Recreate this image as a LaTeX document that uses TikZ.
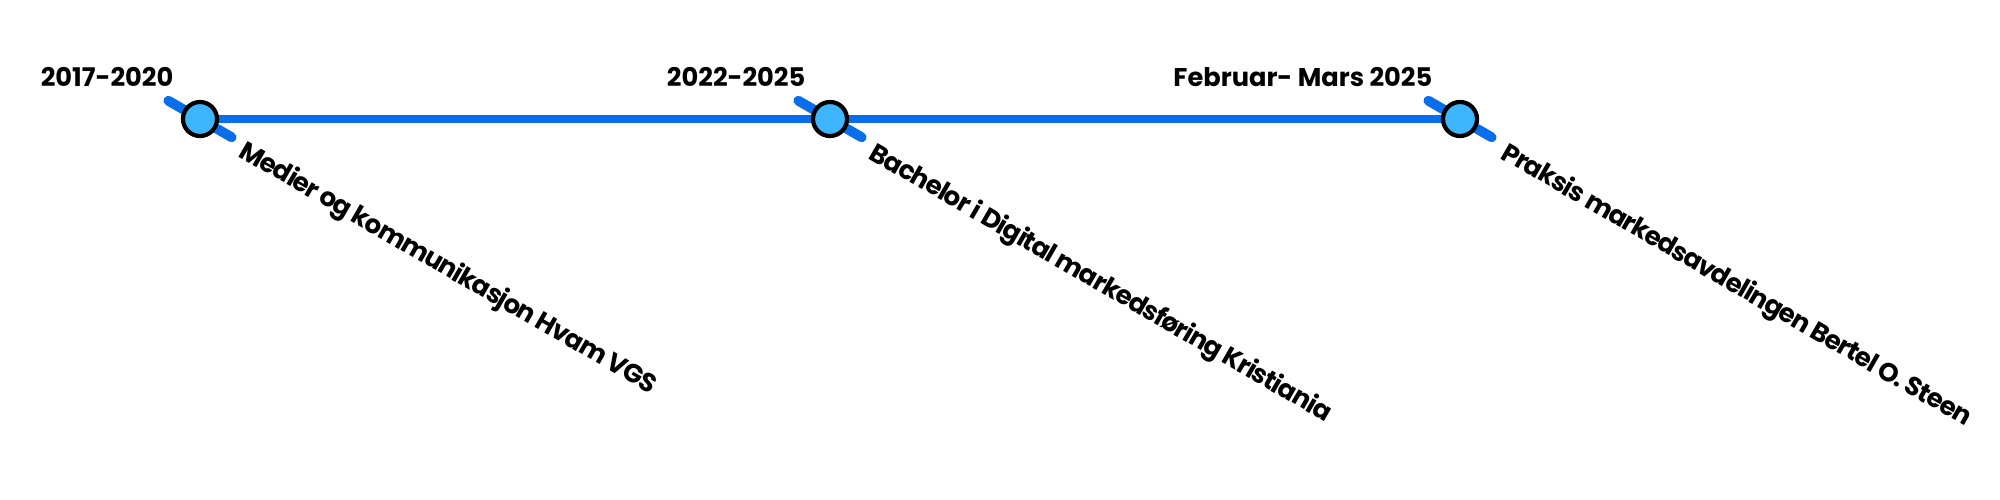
\documentclass[tikz,border=0pt]{standalone}
\usepackage{fontspec}
\setmainfont{Poppins}
\newfontfamily\descfont{Poppins}[LetterSpace=-4]
\usetikzlibrary{positioning,calc}
\definecolor{lineblue}{RGB}{8,110,234}
\definecolor{dotblue}{RGB}{62,181,255}
\tikzset{font=\bfseries\fontsize{7.3}{8}\selectfont}

\begin{document}
\begin{tikzpicture}[x=0.01cm, y=-0.01cm]
	\useasboundingbox (0, 0) rectangle (2000, 500);
	\tikzstyle{every node}=[inner sep=0pt]
	\tikzstyle{dot}=[circle, draw=black, fill=dotblue, line width=1.2pt, minimum size=0.34cm]
	\tikzstyle{tickline}=[lineblue, line width=2.8pt, line cap=round]
	\tikzstyle{mainline}=[lineblue, line width=2.3pt]
	\tikzstyle{desc}=[anchor=north west, rotate=-30, font=\descfont\bfseries\fontsize{7.4}{8}\selectfont]

	\coordinate (p1) at (200, 119);
	\coordinate (p2) at (830, 119);
	\coordinate (p3) at (1460, 119);

	\foreach \p in {p1, p2, p3}
		\draw [tickline] ($(\p)+(150:0.365cm)$) to ($(\p)+(-30:0.365cm)$);
	\draw [mainline] (p1) to (p2) to (p3);

	\node [dot] (m1) at (p1) {};
	\node [dot] (m2) at (p2) {};
	\node [dot] (m3) at (p3) {};

	\node [anchor=base east] (y1) at (174, 87) {2017-2020};
	\node [anchor=base east] (y2) at (806, 87) {2022-2025};
	\node [anchor=base east] (y3) at (1433, 87) {Februar- Mars 2025};

	\node [desc] (d1) at (248, 137) {Medier og kommunikasjon Hvam VGS};
	\node [desc] (d2) at (878, 139) {Bachelor i Digital markedsføring Kristiania};
	\node [desc] (d3) at (1510, 139) {Praksis markedsavdelingen Bertel O. Steen};
\end{tikzpicture}
\end{document}
